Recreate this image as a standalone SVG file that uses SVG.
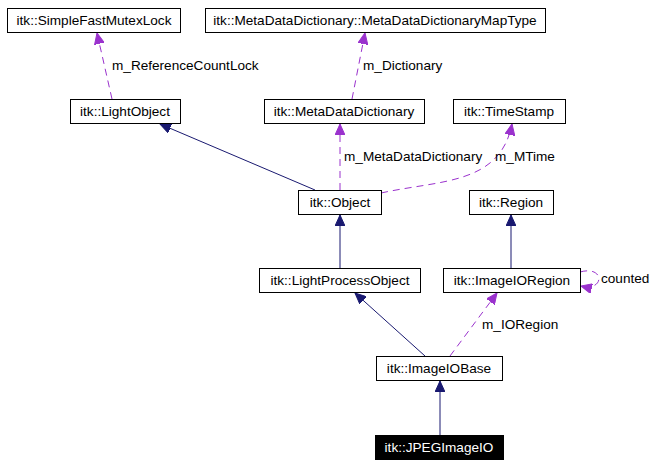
<svg xmlns="http://www.w3.org/2000/svg" width="658" height="468" viewBox="0 0 658 468">
<style>
.n rect{fill:#fff;stroke:#000;stroke-width:1}
text{font-family:"Liberation Sans",Arial,sans-serif;font-size:13.6px;fill:#000}
.n text{text-anchor:middle}
.inh{stroke:#191970;fill:none;stroke-width:1}
.use{stroke:#9a32cd;fill:none;stroke-width:1;stroke-dasharray:7,5}
</style>
<defs>
<marker id="an" markerWidth="12" markerHeight="10" refX="11" refY="5" orient="auto" markerUnits="userSpaceOnUse"><path d="M0,0 L11,5 L0,10 Z" fill="#191970" stroke="#191970"/></marker>
<marker id="ap" markerWidth="12" markerHeight="10" refX="11" refY="5" orient="auto" markerUnits="userSpaceOnUse"><path d="M0,0 L11,5 L0,10 Z" fill="#9a32cd" stroke="#9a32cd"/></marker>
</defs>
<rect width="658" height="468" fill="#fff"/>
<g id="edges">
<path class="use" d="M112,99 L97,33" marker-end="url(#ap)"/>
<text x="112" y="70">m_ReferenceCountLock</text>
<path class="use" d="M352,99 L365,33" marker-end="url(#ap)"/>
<text x="363" y="70">m_Dictionary</text>
<path class="inh" d="M315,190 L160,124" marker-end="url(#an)"/>
<path class="use" d="M340,190 L340,124" marker-end="url(#ap)"/>
<text x="344" y="161">m_MetaDataDictionary</text>
<path class="use" d="M381,193 C440,180 500,185 512,124" marker-end="url(#ap)"/>
<text x="495" y="161">m_MTime</text>
<path class="inh" d="M340,268 L340,215" marker-end="url(#an)"/>
<path class="inh" d="M511,268 L511,215" marker-end="url(#an)"/>
<path class="use" d="M580,272 C605,265 605,292 581,286" marker-end="url(#ap)"/>
<text x="601" y="283">counted</text>
<path class="inh" d="M425,356 L355,293" marker-end="url(#an)"/>
<path class="use" d="M450,356 L497,293" marker-end="url(#ap)"/>
<text x="482" y="329">m_IORegion</text>
<path class="inh" d="M440,435 L440,381" marker-end="url(#an)"/>
</g>
<g id="SimpleFastMutexLock" class="n"><rect x="7.5" y="8.5" width="173" height="24"/><text x="94" y="25">itk::SimpleFastMutexLock</text></g>
<g id="MapType" class="n"><rect x="205.5" y="8.5" width="340" height="24"/><text x="375" y="25">itk::MetaDataDictionary::MetaDataDictionaryMapType</text></g>
<g id="LightObject" class="n"><rect x="70.5" y="99.5" width="110" height="24"/><text x="125" y="116">itk::LightObject</text></g>
<g id="MetaDataDictionary" class="n"><rect x="264.5" y="99.5" width="160" height="24"/><text x="344" y="116">itk::MetaDataDictionary</text></g>
<g id="TimeStamp" class="n"><rect x="453.5" y="99.5" width="112" height="24"/><text x="509" y="116">itk::TimeStamp</text></g>
<g id="Object" class="n"><rect x="298.5" y="190.5" width="83" height="24"/><text x="340" y="207">itk::Object</text></g>
<g id="Region" class="n"><rect x="469.5" y="190.5" width="84" height="24"/><text x="511" y="207">itk::Region</text></g>
<g id="LightProcessObject" class="n"><rect x="259.5" y="268.5" width="161" height="24"/><text x="340" y="285">itk::LightProcessObject</text></g>
<g id="ImageIORegion" class="n"><rect x="443.5" y="268.5" width="137" height="24"/><text x="512" y="285">itk::ImageIORegion</text></g>
<g id="ImageIOBase" class="n"><rect x="376.5" y="356.5" width="126" height="24"/><text x="439" y="373">itk::ImageIOBase</text></g>
<g id="JPEGImageIO" class="n"><rect x="375.5" y="435.5" width="128" height="24" style="fill:#000"/><text x="439" y="452" style="fill:#fff">itk::JPEGImageIO</text></g>
</svg>
